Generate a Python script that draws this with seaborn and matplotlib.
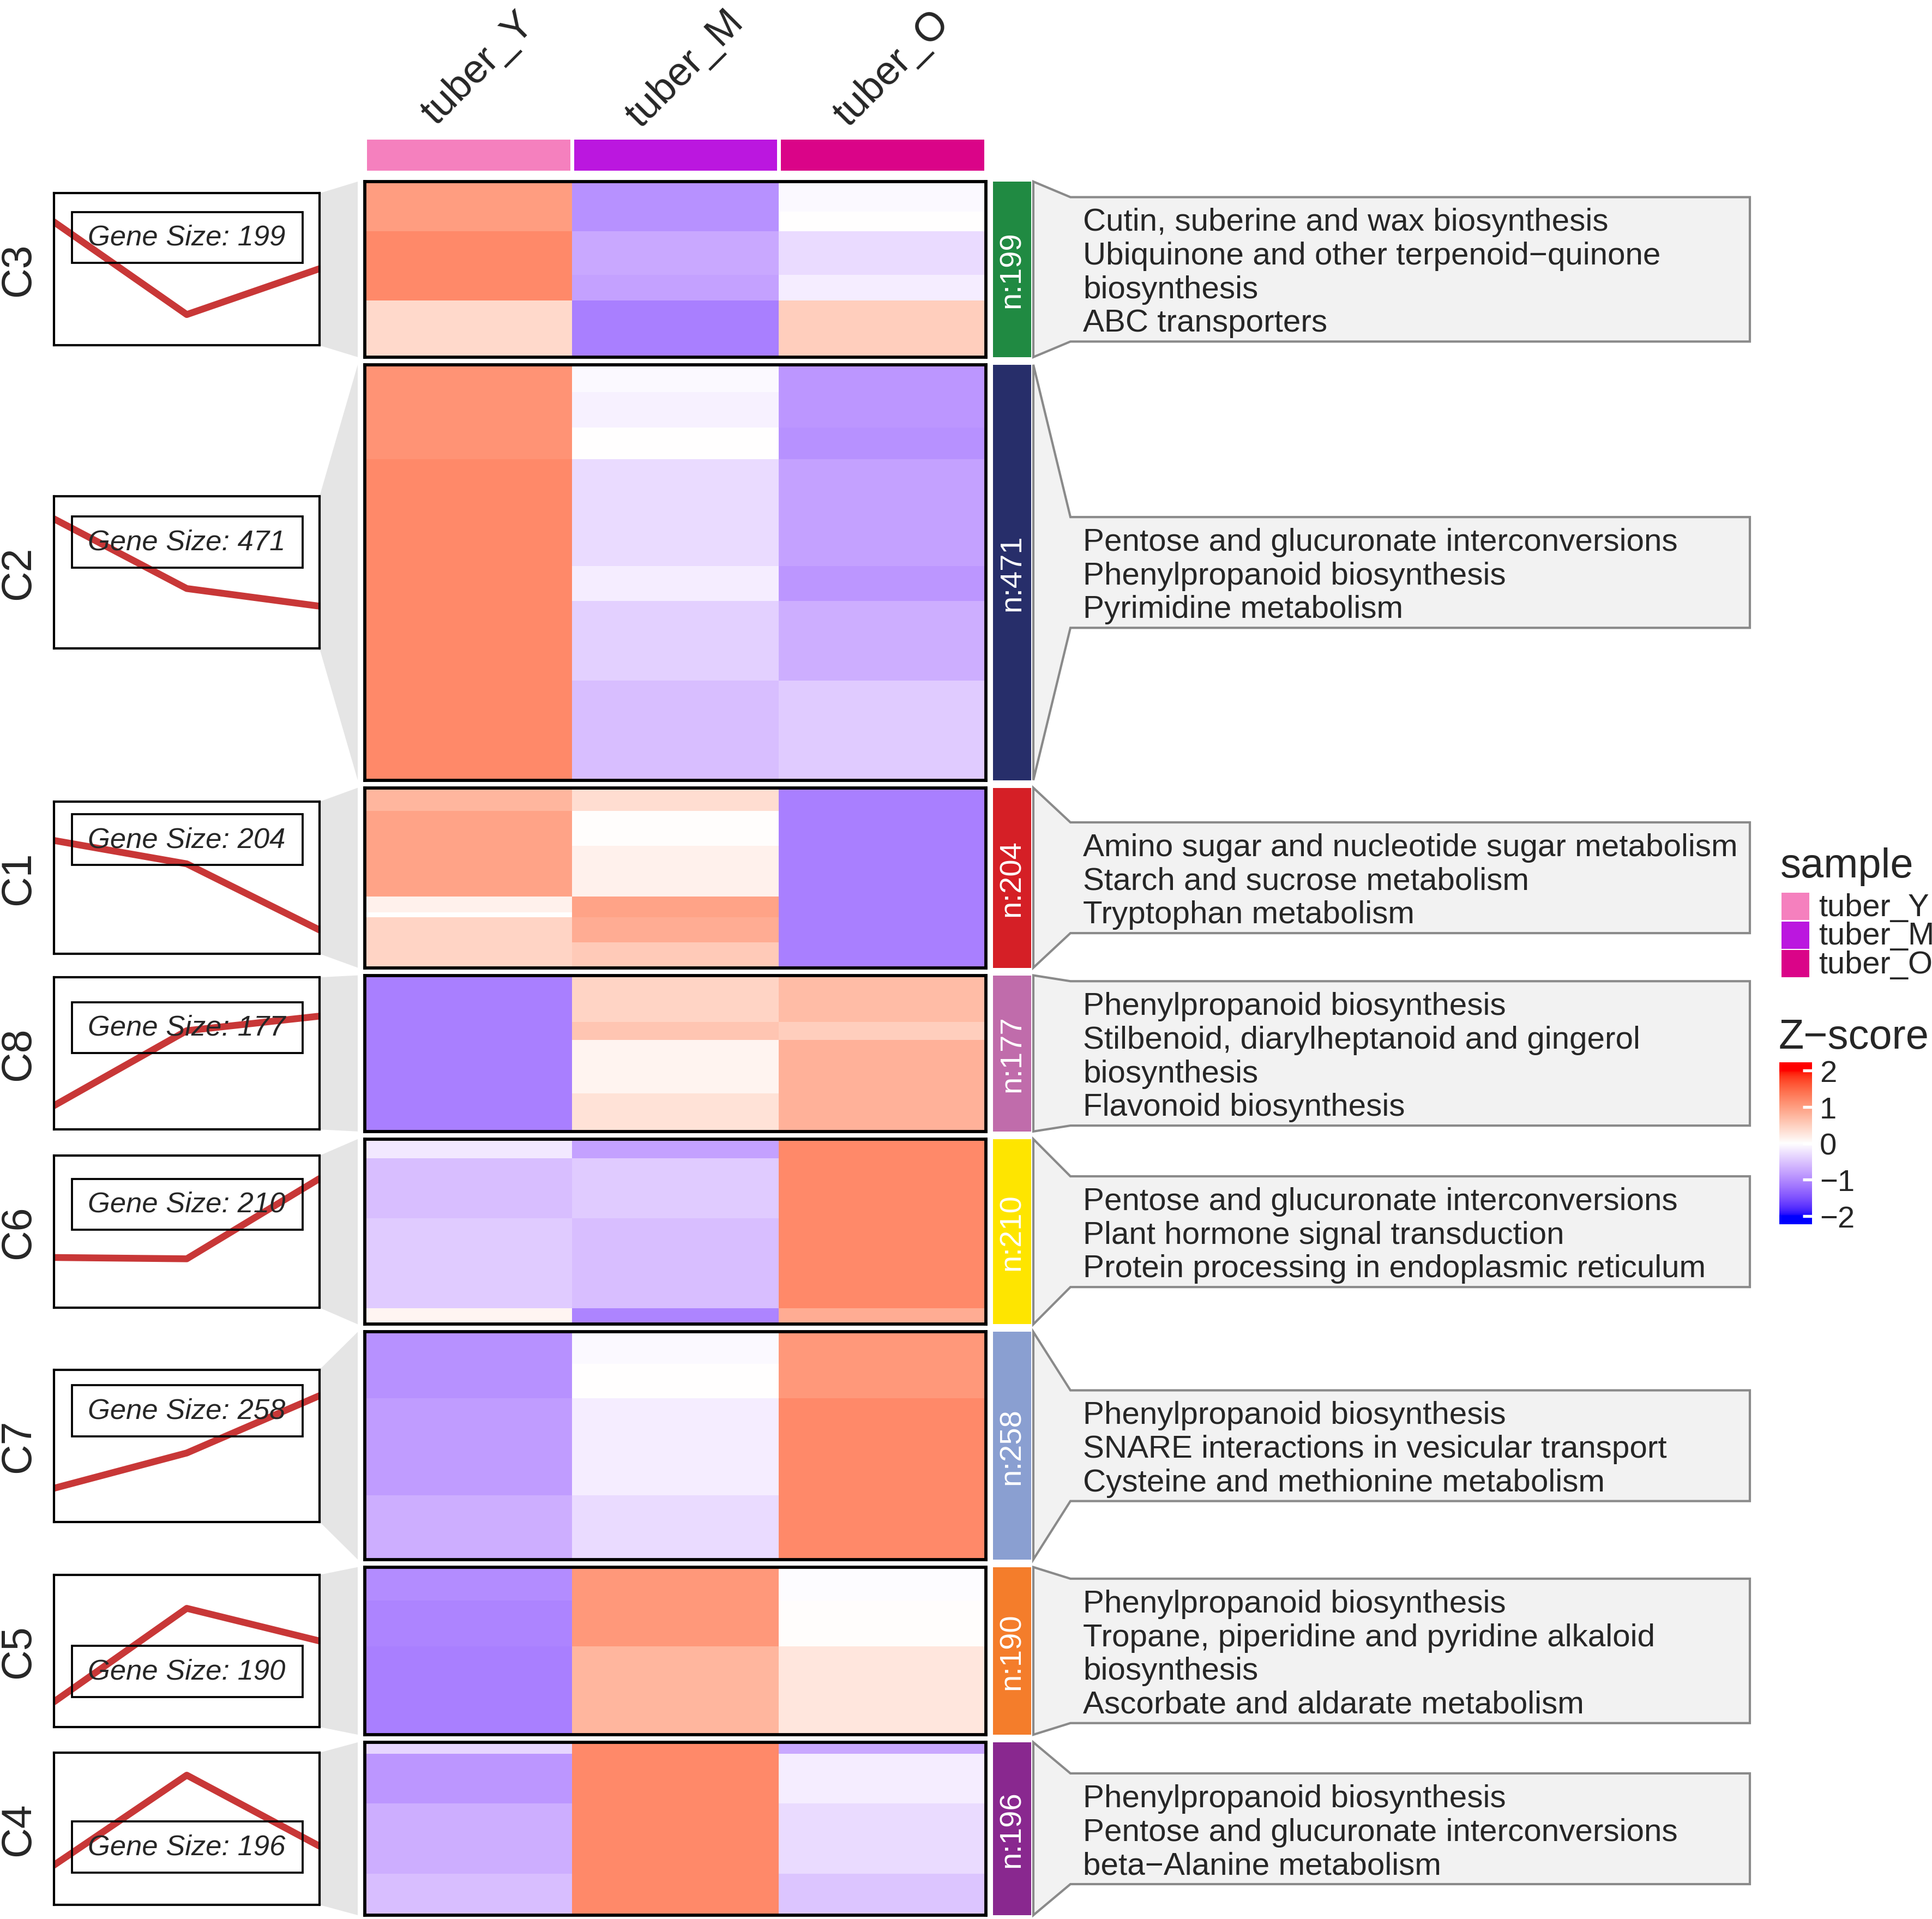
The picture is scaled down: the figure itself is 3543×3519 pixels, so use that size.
import numpy as np
import pandas as pd
import matplotlib
matplotlib.use("Agg")
import matplotlib.pyplot as plt
import seaborn as sns
from matplotlib.colors import ListedColormap
from matplotlib.patches import Rectangle, Polygon

# ---------------- data ----------------
samples = ["tuber_Y", "tuber_M", "tuber_O"]
sample_colors = ["#F580BE", "#BB17DF", "#DA0488"]

cluster_order = ["C3", "C2", "C1", "C8", "C6", "C7", "C5", "C4"]
cluster_sizes = [199, 471, 204, 177, 210, 258, 190, 196]
cluster_colors = ["#208A42", "#272E6A", "#D51F26", "#C06CAB",
                  "#FEE500", "#8A9FD1", "#F47D2B", "#89288F"]

# mean z-score trend per cluster (left line panels)
mean_Y = [1.04, 1.18, 0.81, -1.22, -0.62, -1.00, -1.19, -0.86]
mean_M = [-1.06, -0.40, 0.28, 0.48, -0.65, -0.20, 0.93, 1.18]
mean_O = [-0.02, -0.80, -1.22, 0.81, 1.17, 1.10, 0.19, -0.43]

# heatmap row blocks per cluster: number of rows and z-score per sample
seg_rows = {
    "C3": [34, 22, 50, 29, 64],
    "C2": [31, 40, 36, 121, 40, 90, 113],
    "C1": [26, 40, 57, 18, 6, 28, 29],
    "C8": [53, 20, 61, 43],
    "C6": [22, 68, 102, 18],
    "C7": [36, 39, 110, 73],
    "C5": [38, 52, 100],
    "C4": [13, 56, 80, 47],
}
seg_Y = {
    "C3": [1.0, 1.0, 1.2, 1.2, 0.4],
    "C2": [1.1, 1.1, 1.1, 1.2, 1.2, 1.2, 1.2],
    "C1": [0.75, 0.95, 0.95, 0.15, 0.0, 0.45, 0.45],
    "C8": [-1.1, -1.1, -1.1, -1.1],
    "C6": [-0.2, -0.55, -0.45, 0.1],
    "C7": [-0.95, -0.95, -0.85, -0.7],
    "C5": [-1.0, -1.05, -1.1],
    "C4": [-0.35, -0.9, -0.7, -0.55],
}
seg_M = {
    "C3": [-0.95, -0.95, -0.75, -0.8, -1.1],
    "C2": [-0.05, -0.12, 0.0, -0.3, -0.15, -0.4, -0.55],
    "C1": [0.35, 0.03, 0.15, 0.95, 0.95, 0.85, 0.55],
    "C8": [0.45, 0.6, 0.12, 0.3],
    "C6": [-0.8, -0.45, -0.55, -1.05],
    "C7": [-0.05, 0.0, -0.15, -0.3],
    "C5": [1.05, 1.05, 0.75],
    "C4": [1.2, 1.2, 1.2, 1.2],
}
seg_O = {
    "C3": [-0.05, 0.0, -0.3, -0.15, 0.5],
    "C2": [-0.9, -0.9, -0.95, -0.8, -0.9, -0.7, -0.45],
    "C1": [-1.1, -1.1, -1.1, -1.1, -1.1, -1.1, -1.1],
    "C8": [0.7, 0.5, 0.8, 0.8],
    "C6": [1.2, 1.2, 1.2, 0.85],
    "C7": [1.05, 1.05, 1.2, 1.2],
    "C5": [-0.03, 0.03, 0.25],
    "C4": [-0.75, -0.15, -0.3, -0.5],
}

pathways = {
    "C3": ["Cutin, suberine and wax biosynthesis",
           "Ubiquinone and other terpenoid\u2212quinone", "biosynthesis",
           "ABC transporters"],
    "C2": ["Pentose and glucuronate interconversions",
           "Phenylpropanoid biosynthesis", "Pyrimidine metabolism"],
    "C1": ["Amino sugar and nucleotide sugar metabolism",
           "Starch and sucrose metabolism", "Tryptophan metabolism"],
    "C8": ["Phenylpropanoid biosynthesis",
           "Stilbenoid, diarylheptanoid and gingerol", "biosynthesis",
           "Flavonoid biosynthesis"],
    "C6": ["Pentose and glucuronate interconversions",
           "Plant hormone signal transduction",
           "Protein processing in endoplasmic reticulum"],
    "C7": ["Phenylpropanoid biosynthesis",
           "SNARE interactions in vesicular transport",
           "Cysteine and methionine metabolism"],
    "C5": ["Phenylpropanoid biosynthesis",
           "Tropane, piperidine and pyridine alkaloid", "biosynthesis",
           "Ascorbate and aldarate metabolism"],
    "C4": ["Phenylpropanoid biosynthesis",
           "Pentose and glucuronate interconversions",
           "beta\u2212Alanine metabolism"],
}

# label placement (fraction of panel height) for "Gene Size" boxes
label_pos = [0.71, 0.70, 0.75, 0.67, 0.68, 0.73, 0.365, 0.38]

zscore_ticks = [2, 1, 0, -1, -2]

# ---------------- colour map (LAB interpolation blue-white-red) ----------------
def _hex2rgb(h):
    h = h.lstrip("#")
    return np.array([int(h[i:i + 2], 16) / 255 for i in (0, 2, 4)])

_M = np.array([[0.4124564, 0.3575761, 0.1804375],
               [0.2126729, 0.7151522, 0.0721750],
               [0.0193339, 0.1191920, 0.9503041]])
_WP = np.array([0.95047, 1.0, 1.08883])

def _rgb2lab(rgb):
    lin = np.where(rgb <= 0.04045, rgb / 12.92, ((rgb + 0.055) / 1.055) ** 2.4)
    xyz = _M @ lin / _WP
    d = 6 / 29
    f = np.where(xyz > d ** 3, np.cbrt(xyz), xyz / (3 * d * d) + 4 / 29)
    return np.array([116 * f[1] - 16, 500 * (f[0] - f[1]), 200 * (f[1] - f[2])])

def _lab2rgb(lab):
    d = 6 / 29
    fy = (lab[0] + 16) / 116
    f = np.array([fy + lab[1] / 500, fy, fy - lab[2] / 200])
    xyz = np.where(f > d, f ** 3, 3 * d * d * (f - 4 / 29)) * _WP
    lin = np.linalg.solve(_M, xyz)
    lin = np.clip(lin, 0, 1)
    rgb = np.where(lin <= 0.0031308, 12.92 * lin, 1.055 * lin ** (1 / 2.4) - 0.055)
    return np.clip(rgb, 0, 1)

_lb, _lw, _lr = (_rgb2lab(_hex2rgb(c)) for c in ("#0000FF", "#FFFFFF", "#FF0000"))
_cols = []
for z in np.linspace(-2, 2, 256):
    if z < 0:
        t = (z + 2) / 2
        lab = _lb + (_lw - _lb) * t
    else:
        t = z / 2
        lab = _lw + (_lr - _lw) * t
    _cols.append(_lab2rgb(lab))
zcmap = ListedColormap(_cols)

# ---------------- figure ----------------
sns.set_style("white")
plt.rcParams["font.family"] = ["Liberation Sans", "DejaVu Sans"]

W, H = 3543, 3520
DPI = 300
fig = plt.figure(figsize=(W / DPI, H / DPI), dpi=DPI)

def add_ax(x0, y0, x1, y1, z=2):
    return fig.add_axes([x0 / W, 1 - y1 / H, (x1 - x0) / W, (y1 - y0) / H], zorder=z)

ov = fig.add_axes([0, 0, 1, 1], zorder=1)
ov.set_xlim(0, W)
ov.set_ylim(H, 0)
ov.axis("off")

HM_X0, HM_X1 = 669, 1808
HM_TOP, HM_BOT, GAP = 334, 3513, 14
unit = (HM_BOT - HM_TOP - GAP * (len(cluster_sizes) - 1)) / sum(cluster_sizes)
col_w = (HM_X1 - HM_X0) / 3

# top annotation
ax_ann = add_ax(HM_X0, 253, HM_X1, 317)
sns.heatmap(pd.DataFrame([[0, 1, 2]], columns=samples), ax=ax_ann,
            cmap=ListedColormap(sample_colors), vmin=-0.5, vmax=2.5, cbar=False,
            linewidths=1.3, linecolor="white", xticklabels=False, yticklabels=False)
ax_ann.set_xlabel("")
ax_ann.set_ylabel("")
for i, s in enumerate(samples):
    ov.text(HM_X0 + col_w * (i + 0.5) + 18, 126, s, rotation=45, ha="center",
            va="center", rotation_mode="anchor", fontsize=17.8)

BAR_X0, BAR_X1 = 1821, 1891
LB_X0, LB_X1, LB_H = 99, 586, 279
TRAP_X1 = 656
PX0, PX1, PX2 = 1895, 1963, 3209
TXT_X = 1986
LH = 61.7
TXT_FS = 14.0

y = HM_TOP
for k, cl in enumerate(cluster_order):
    n = cluster_sizes[k]
    h = n * unit
    top, bot = y, y + h
    cen = (top + bot) / 2

    # heatmap
    rows = np.array(seg_rows[cl])
    mat = np.column_stack([np.repeat(seg_Y[cl], rows), np.repeat(seg_M[cl], rows),
                           np.repeat(seg_O[cl], rows)])
    df = pd.DataFrame(mat, columns=samples)
    ax = add_ax(HM_X0, top, HM_X1, bot)
    sns.heatmap(df, ax=ax, cmap=zcmap, vmin=-2, vmax=2, cbar=False,
                xticklabels=False, yticklabels=False)
    ax.set_xlabel("")
    ax.set_ylabel("")
    for sp in ax.spines.values():
        sp.set_visible(True)
        sp.set_color("black")
        sp.set_linewidth(1.4)

    # cluster bar
    ov.add_patch(Rectangle((BAR_X0, top), BAR_X1 - BAR_X0, h,
                           facecolor=cluster_colors[k], edgecolor="none", zorder=2))
    ov.text((BAR_X0 + BAR_X1) / 2, cen, f"n:{n}", rotation=90, ha="center",
            va="center", color="white", fontsize=13.5, zorder=3)

    # right annotation box
    lines = pathways[cl]
    bh = len(lines) * LH + 18
    btop, bbot = cen - bh / 2, cen + bh / 2
    ov.add_patch(Polygon([(PX0, top), (PX1, btop), (PX2, btop), (PX2, bbot),
                          (PX1, bbot), (PX0, bot)], closed=True,
                         facecolor="#F2F2F2", edgecolor="#8A8A8A", linewidth=1.0,
                         zorder=2))
    for i, line in enumerate(lines):
        yc = cen + (i - (len(lines) - 1) / 2) * LH
        ov.text(TXT_X, yc + 21, line, ha="left", va="baseline", fontsize=TXT_FS,
                zorder=3)

    # left trend panel
    ltop, lbot = cen - LB_H / 2, cen + LB_H / 2
    ov.add_patch(Polygon([(LB_X1, ltop), (TRAP_X1, top), (TRAP_X1, bot), (LB_X1, lbot)],
                         closed=True, facecolor="#E5E5E5", edgecolor="none", zorder=2))
    lax = add_ax(LB_X0, ltop, LB_X1, lbot)
    trend = pd.DataFrame({"sample": [0, 1, 2],
                          "z": [mean_Y[k], mean_M[k], mean_O[k]]})
    sns.lineplot(data=trend, x="sample", y="z", ax=lax, color="#C83737",
                 linewidth=3.0)
    lax.set_xlim(0, 2)
    lax.set_ylim(-1.76, 1.69)
    lax.set_xticks([])
    lax.set_yticks([])
    lax.set_xlabel("")
    lax.set_ylabel("")
    for sp in lax.spines.values():
        sp.set_visible(True)
        sp.set_color("black")
        sp.set_linewidth(1.0)
    lp = label_pos[k]
    lax.add_patch(Rectangle((0.068, lp - 0.167), 0.868, 0.334, transform=lax.transAxes,
                            facecolor="none", edgecolor="black", linewidth=0.9,
                            zorder=3))
    lax.text(0.5, lp, f"Gene Size: {n}", transform=lax.transAxes, ha="center",
             va="center", fontsize=12.6, style="italic", zorder=4)
    ov.text(34, cen, cl, rotation=90, ha="center", va="center", fontsize=18.5)

    y = bot + GAP

# ---------------- legends ----------------
ov.text(3265, 1609, "sample", ha="left", va="baseline", fontsize=18.2)
for i, (s, c) in enumerate(zip(samples, sample_colors)):
    y0 = 1638 + i * 52.5
    ov.add_patch(Rectangle((3267, y0), 51, 50, facecolor=c, edgecolor="none", zorder=2))
    ov.text(3335, y0 + 25 + 17, s, ha="left", va="baseline", fontsize=13.9)

ov.text(3262, 1923, "Z\u2212score", ha="left", va="baseline", fontsize=18.2)
CB_X0, CB_X1, CB_Y0, CB_Y1, CB_R = 3263, 3323, 1949, 2246, 2.22
cax = add_ax(CB_X0, CB_Y0, CB_X1, CB_Y1)
grad = np.linspace(CB_R, -CB_R, 400)[:, None]
cax.imshow(grad, cmap=zcmap, vmin=-2, vmax=2, aspect="auto",
           extent=[0, 1, -CB_R, CB_R])
cax.hlines(zscore_ticks, 0.72, 1.0, color="white", linewidth=1.3)
cax.set_xlim(0, 1)
cax.set_ylim(-CB_R, CB_R)
cax.axis("off")
for v in zscore_ticks:
    yp = CB_Y0 + (CB_R - v) / (2 * CB_R) * (CB_Y1 - CB_Y0)
    lab = str(v) if v >= 0 else "\u2212" + str(-v)
    ov.text(3337, yp + 20, lab, ha="left", va="baseline", fontsize=13.5)

fig.savefig("out.png", dpi=DPI)
